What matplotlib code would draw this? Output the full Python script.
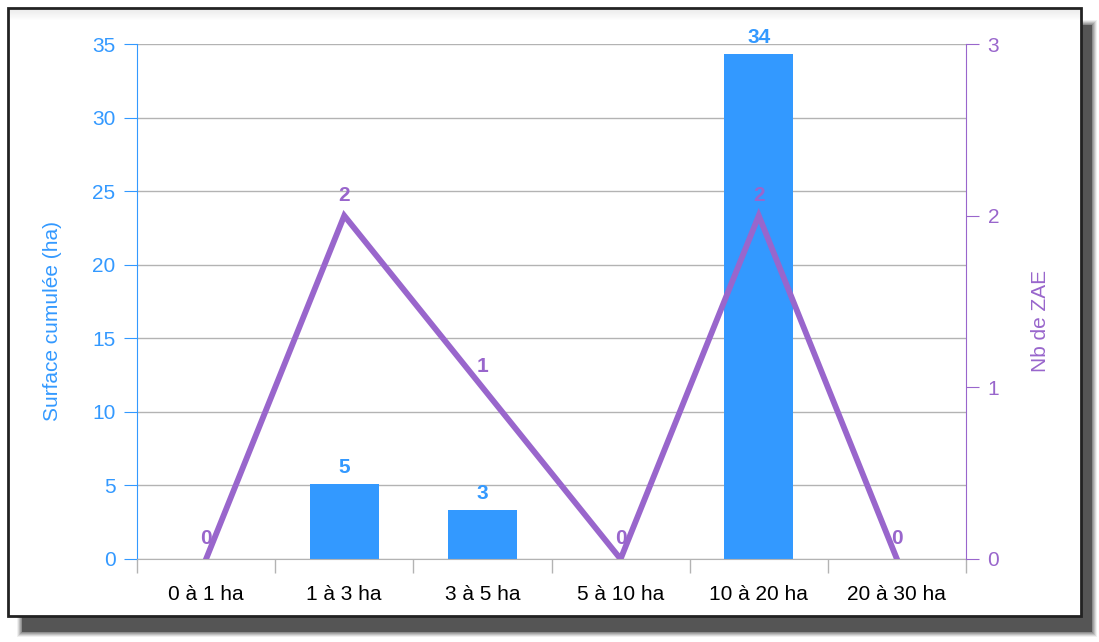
import matplotlib.pyplot as plt
from matplotlib.patches import Rectangle
import numpy as np

plt.rcParams['font.family'] = ['Liberation Sans', 'DejaVu Sans']

# données
categories = ['0 à 1 ha', '1 à 3 ha', '3 à 5 ha', '5 à 10 ha', '10 à 20 ha', '20 à 30 ha']
surface = [0, 5.1, 3.35, 0, 34.3, 0]
surface_labels = ['', '5', '3', '', '34', '']
nb_zae = [0, 2, 1, 0, 2, 0]

c_bar = '#3399FF'
c_line = '#9966CC'
c_grid = '#b3b3b3'

W, H = 1099, 642
fig = plt.figure(figsize=(W / 100, H / 100), dpi=100)
fig.patch.set_facecolor('white')

def px(x0, y0, x1, y1):
    # rectangle en pixels (origine en haut à gauche) -> coordonnées figure
    return (x0 / W, 1 - y1 / H), (x1 - x0) / W, (y1 - y0) / H

# ombre floue
for i, a in enumerate(np.linspace(0.25, 1.0, 6)):
    d = 5 - i
    xy, w, h = px(22 - d, 25 - d, 1097 + d - 5, 637 + d - 5)
    fig.patches.append(Rectangle(xy, w, h, transform=fig.transFigure,
                                 facecolor='#555555', alpha=a * 0.35, edgecolor='none', zorder=-5))
xy, w, h = px(22, 25, 1092, 632)
fig.patches.append(Rectangle(xy, w, h, transform=fig.transFigure,
                             facecolor='#555555', edgecolor='none', zorder=-4))
# cadre
xy, w, h = px(8, 8, 1081, 616)
fig.patches.append(Rectangle(xy, w, h, transform=fig.transFigure,
                             facecolor='white', edgecolor='#222222', linewidth=2, zorder=-3))
# léger dégradé en haut
for i in range(10):
    xy, w, h = px(10, 10 + i, 1080, 11 + i)
    fig.patches.append(Rectangle(xy, w, h, transform=fig.transFigure,
                                 facecolor='#cccccc', alpha=0.35 * (1 - i / 10),
                                 edgecolor='none', zorder=-2))

ax = fig.add_axes([137 / W, 1 - 559 / H, (966 - 137) / W, (559 - 44) / H])
ax.set_facecolor('none')
ax2 = ax.twinx()

x = np.arange(len(categories))
bars = ax.bar(x, surface, width=0.5, color=c_bar, zorder=2)
for b, lab in zip(bars, surface_labels):
    if lab:
        ax.annotate(lab, (b.get_x() + b.get_width() / 2, b.get_height()),
                    xytext=(0, 5), textcoords='offset points', ha='center', va='bottom',
                    fontsize=15, fontweight='bold', color=c_bar)

ax2.plot(x, nb_zae, color=c_line, linewidth=4.2, solid_joinstyle='miter', zorder=3)
for xi, v in zip(x, nb_zae):
    ax2.annotate(str(v), (xi, v), xytext=(0, 8), textcoords='offset points',
                 ha='center', va='bottom', fontsize=15, fontweight='bold', color=c_line)

ax.set_xlim(-0.5, len(categories) - 0.5)
ax.set_ylim(0, 35)
ax.set_yticks(np.arange(0, 36, 5))
ax2.set_ylim(0, 3)
ax2.set_yticks([0, 1, 2, 3])

ax.yaxis.grid(True, color=c_grid, linewidth=1)
ax.set_axisbelow(True)

ax.set_xticks(np.arange(-0.5, len(categories), 1))
ax.set_xticklabels([])
ax.set_xticks(x, minor=True)
ax.set_xticklabels(categories, minor=True)
ax.tick_params(axis='x', which='major', length=10, color=c_grid, width=1)
ax.tick_params(axis='x', which='minor', length=0, pad=19, labelsize=15, labelcolor='black')

ax.tick_params(axis='y', length=9.5, color=c_bar, labelcolor=c_bar, labelsize=15, pad=6)
ax2.tick_params(axis='y', length=9.5, color=c_line, labelcolor=c_line, labelsize=15, pad=6)

for a in (ax, ax2):
    a.spines['top'].set_visible(False)
ax.spines['left'].set_color(c_bar)
ax.spines['right'].set_visible(False)
ax2.spines['left'].set_visible(False)
ax2.spines['right'].set_color(c_line)
ax2.spines['bottom'].set_visible(False)
ax.spines['bottom'].set_color(c_grid)

ax.set_ylabel('Surface cumulée (ha)', fontsize=15, color=c_bar)
ax.yaxis.set_label_coords(-0.09, 0.462)
ax2.set_ylabel('Nb de ZAE', fontsize=15, color=c_line)
ax2.yaxis.set_label_coords(1.078, 0.462)

fig.savefig('out.png', dpi=100)
